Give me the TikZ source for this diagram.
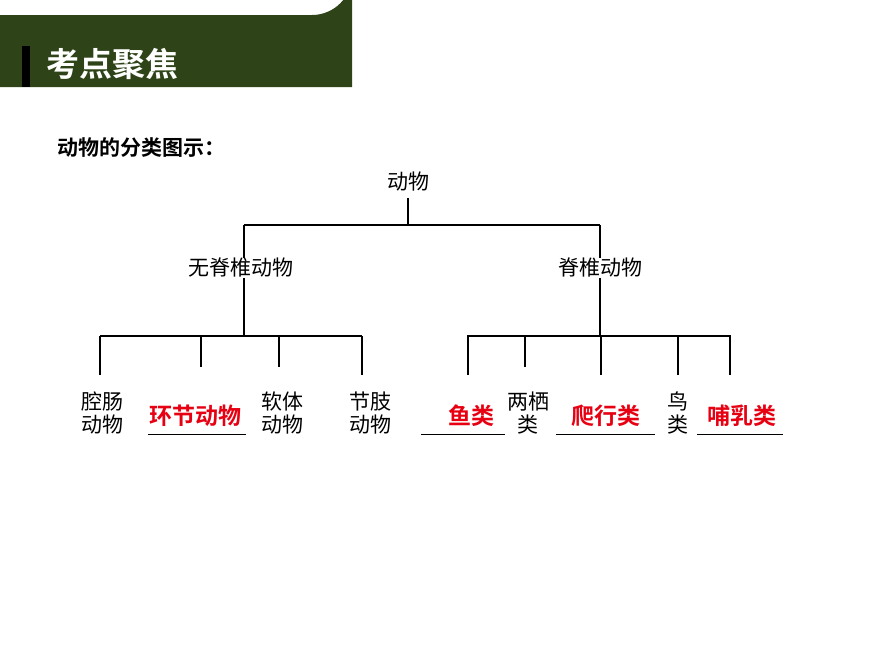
\documentclass[tikz,border=0pt]{standalone}
\usepackage{fontspec}
\newfontfamily\cjk{Noto Sans CJK SC}
\newfontfamily\cjkb{Noto Sans CJK SC Bold}
\definecolor{hdr}{HTML}{2E4418}
\definecolor{ybar}{HTML}{F5C400}
\definecolor{redt}{HTML}{E60012}
\begin{document}
\begin{tikzpicture}[x=1pt,y=-1pt,
  lbl/.style={font=\cjk\fontsize{21}{23}\selectfont,align=center,inner sep=0pt},
  ans/.style={font=\cjkb\fontsize{23}{25}\selectfont,text=redt,inner sep=0pt},
  ln/.style={line width=1.6pt},
  ul/.style={line width=0.9pt}]
\useasboundingbox (0,0) rectangle (870,653);
\fill[hdr] (0,15) -- (312,15) arc[start angle=90,end angle=0,radius=40] -- (352,87) -- (0,87) -- cycle;
\fill[ybar] (22,46) rectangle (30,87);
\node[anchor=west,text=white,font=\cjkb\fontsize{33}{35}\selectfont,inner sep=0pt] (title) at (46,64) {考点聚焦};
\node[anchor=west,font=\cjkb\fontsize{21}{23}\selectfont,inner sep=0pt] (cap) at (57,148) {动物的分类图示：};
\node[lbl] (root) at (408,182) {动物};
\node[lbl] (inv) at (241,268) {无脊椎动物};
\node[lbl] (ver) at (600,268) {脊椎动物};
\coordinate (j) at (408,225);
\draw[ln] (root.south) ++(0,6) -- (j);
\draw[ln] (244,225) -- (600,225);
\draw[ln] (244,225) -- (inv.north -| 244,0);
\draw[ln] (600,225) -- (ver.north);
\draw[ln] (inv.south -| 244,0) -- (244,336);
\draw[ln] (ver.south) -- (600,336);
\draw[ln] (100,336) -- (362,336);
\draw[ln] (467,336) -- (731,336);
\foreach \x/\e in {100/375,201/367,279/367,362/375,468/375,525/367,601/375,678/375,730/375}
  \draw[ln] (\x,336) -- (\x,\e);
\node[lbl] (a1) at (102,413) {腔肠\\动物};
\node[ans] (a2) at (195,416) {环节动物};
\draw[ul] (148,434) -- (246,434);
\node[lbl] (a3) at (282,413) {软体\\动物};
\node[lbl] (a4) at (370,413) {节肢\\动物};
\node[ans] (b1) at (471,416) {鱼类};
\draw[ul] (421,434) -- (505,434);
\node[lbl] (b2) at (528,413) {两栖\\类};
\node[ans] (b3) at (606,416) {爬行类};
\draw[ul] (556,434) -- (655,434);
\node[lbl] (b4) at (678,413) {鸟\\类};
\node[ans] (b5) at (742,416) {哺乳类};
\draw[ul] (697,434) -- (783,434);
\end{tikzpicture}
\end{document}
